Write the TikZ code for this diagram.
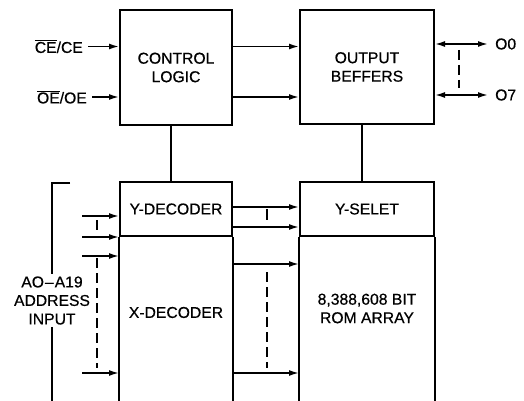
\documentclass[tikz,border=0pt]{standalone}
\usepackage{fontspec}
\setmainfont{Liberation Sans}[FakeBold=0.6]
\usetikzlibrary{arrows.meta,positioning}

\begin{document}
\begin{tikzpicture}[x=1pt,y=-1pt,
  font=\fontsize{15.7}{18.5}\selectfont,>={Latex[length=10pt,width=6pt]},
  blk/.style={draw, line width=2pt, align=center, inner sep=0pt},
  frame/.style={line width=2pt},
  wire/.style={line width=1.6pt},
  dsh/.style={line width=1.5pt, dash pattern=on 10pt off 5pt},
  lbl/.style={align=center, inner sep=1pt},
]
\useasboundingbox (0,0) rectangle (524,401);
% upper blocks
\node[blk, minimum width=112pt, minimum height=115pt] (ctrl) at (176,67.5) {CONTROL\\LOGIC};
\node[blk, minimum width=134pt, minimum height=114pt] (outb) at (367,67) {OUTPUT\\BEFFERS};
% lower blocks
\coordinate (bot) at (0,410);
\node[blk, minimum width=112pt, minimum height=54pt] (ydec) at (176,209) {Y-DECODER};
\node[blk, minimum width=134pt, minimum height=54pt] (ysel) at (367,209) {Y-SELET};
\node[lbl] (xdec) at (176,312.5) {X-DECODER};
\node[lbl] (rom) at (367,308.5) {8,388,608 BIT\\ROM ARRAY};
\draw[frame] (ydec.south west) -- (ydec.south west |- bot);
\draw[frame] (ydec.south east) -- (ydec.south east |- bot);
\draw[frame] (ysel.south west) -- (ysel.south west |- bot);
\draw[frame] (ysel.south east) -- (ysel.south east |- bot);
% control inputs
\coordinate (cein) at (88,46.5);
\coordinate (oein) at (92,97);
\node[lbl, left=4pt of cein] (ce) {$\overline{\mbox{CE}}$/CE};
\node[lbl, left=4pt of oein] (oe) {$\overline{\mbox{OE}}$/OE};
\draw[wire,->] (cein) -- (cein -| ctrl.west);
\draw[wire,->] (oein) -- (oein -| ctrl.west);
\draw[wire,->] (ctrl.east |- cein) -- (outb.west |- cein);
\draw[wire,->] (ctrl.east |- oein) -- (outb.west |- oein);
% outputs
\coordinate (o0) at (488,44);
\coordinate (o7) at (488,95);
\node[lbl, right=6pt of o0] (lo0) {O0};
\node[lbl, right=6pt of o7] (lo7) {O7};
\draw[wire,<->] (outb.east |- o0) -- (o0);
\draw[wire,<->] (outb.east |- o7) -- (o7);
\draw[dsh] (459,50) -- (459,88);
% block links
\draw[wire] ([xshift=-5pt]ctrl.south) -- ([xshift=-5pt]ctrl.south |- ydec.north);
\draw[wire] ([xshift=-5pt]outb.south) -- ([xshift=-5pt]outb.south |- ysel.north);
% address inputs
\node[lbl, inner sep=2pt] (addr) at (52,300.5) {AO\kern1pt--\kern1pt A19\\ADDRESS\\INPUT};
\draw[wire] (70,183) -- (52,183) -- (addr.north);
\draw[wire] (addr.south) -- (addr.south |- bot);
\coordinate (a1) at (82,216);
\coordinate (a2) at (82,237);
\coordinate (a3) at (82,256);
\coordinate (a4) at (82,373);
\draw[wire,->] (a1) -- (a1 -| ydec.west);
\draw[wire,->] (a2) -- (a2 -| ydec.west);
\draw[wire,->] (a3) -- (a3 -| ydec.west);
\draw[wire,->] (a4) -- (a4 -| ydec.west);
\draw[wire] (97,220) -- (97,230);
\draw[dsh] (97,258) -- (97,368);
% decoder to array
\coordinate (b1) at (232,207);
\coordinate (b2) at (232,227);
\coordinate (b3) at (232,264);
\coordinate (b4) at (232,373);
\draw[wire,->] (b1) -- (b1 -| ysel.west);
\draw[wire,->] (b2) -- (b2 -| ysel.west);
\draw[wire,->] (b3) -- (b3 -| ysel.west);
\draw[wire,->] (b4) -- (b4 -| ysel.west);
\draw[wire] (267,209) -- (267,220);
\draw[dsh] (267,272) -- (267,368);
\end{tikzpicture}
\end{document}
